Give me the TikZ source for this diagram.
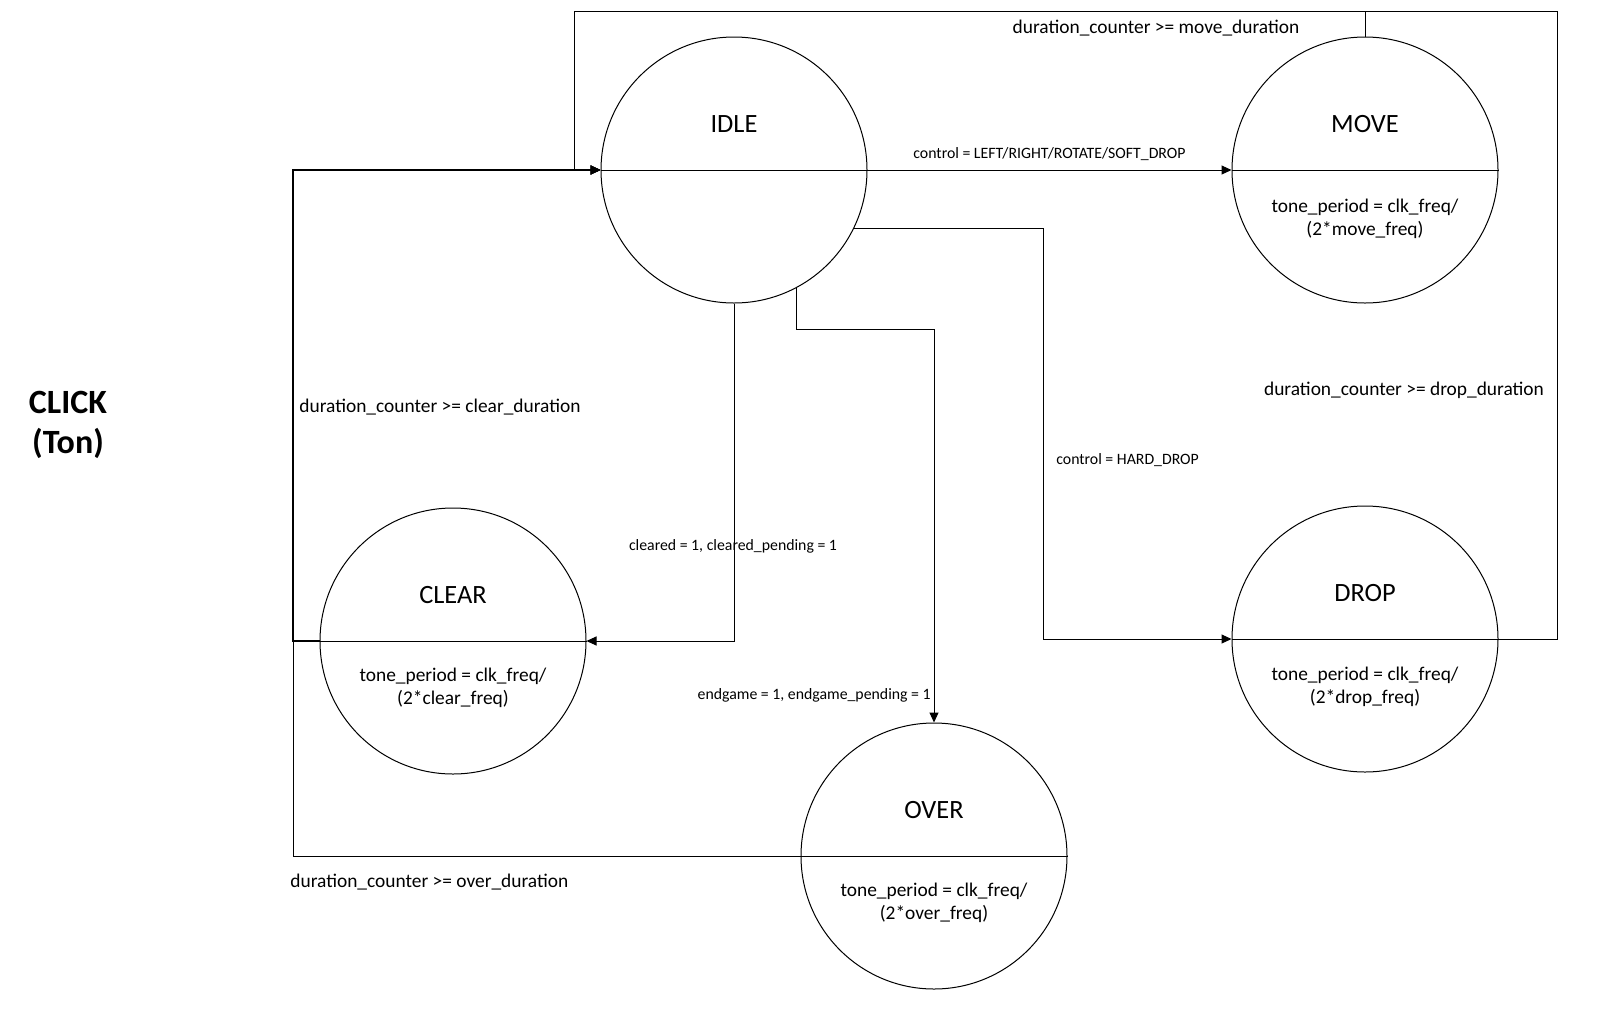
\documentclass[tikz,border=0pt]{standalone}
\usepackage{fontspec}
\setmainfont{Carlito}
\usetikzlibrary{arrows.meta,positioning}

\begin{document}
\begin{tikzpicture}[x=0.5pt,y=-0.5pt,
    state/.style={draw,circle,minimum size=133pt,inner sep=0pt,line width=0.5pt},
    trans/.style={line width=0.5pt,-{Triangle[length=5pt,width=4.5pt]}},
    sname/.style={font=\fontsize{13.2}{15}\selectfont,inner sep=0pt},
    sbody/.style={font=\fontsize{9.7}{11.5}\selectfont,inner sep=0pt,align=center},
    lbl/.style={font=\fontsize{9.7}{11.5}\selectfont,inner sep=0pt},
    cond/.style={font=\fontsize{7.9}{9}\selectfont,inner sep=0pt}]
\useasboundingbox (0,0) rectangle (1613,1029);

% title
\node[font=\fontsize{17}{20}\selectfont\bfseries,align=center] (title) at (68,425) {CLICK\\(Ton)};

% states
\node[state] (idle) at (734,170) {};
\node[state] (move) at (1365,170) {};
\node[state] (clear) at (453,641) {};
\node[state] (drop) at (1365,639) {};
\node[state] (over) at (934,856) {};

\foreach \s in {idle,move,clear,drop,over}
    \draw[line width=0.5pt] (\s.west) -- (\s.east);

\node[sname] (idlename) at ([yshift=22.75pt]idle.center) {IDLE};
\node[sname] (movename) at ([yshift=22.75pt]move.center) {MOVE};
\node[sname] (clearname) at ([yshift=22.75pt]clear.center) {CLEAR};
\node[sname] (dropname) at ([yshift=22.75pt]drop.center) {DROP};
\node[sname] (overname) at ([yshift=22.75pt]over.center) {OVER};

\node[sbody] (movebody) at ([yshift=-24.5pt]move.center) {tone\_period = clk\_freq/\\(2*move\_freq)};
\node[sbody] (clearbody) at ([yshift=-23.5pt]clear.center) {tone\_period = clk\_freq/\\(2*clear\_freq)};
\node[sbody] (dropbody) at ([yshift=-24pt]drop.center) {tone\_period = clk\_freq/\\(2*drop\_freq)};
\node[sbody] (overbody) at ([yshift=-23.5pt]over.center) {tone\_period = clk\_freq/\\(2*over\_freq)};

% bends
\coordinate (topleft) at (574,11);
\coordinate (topright) at (1557,11);
\coordinate (leftbend) at (293,170);
\coordinate (dropbend) at (1043,639);
\coordinate (overbend) at (934,329);

% transitions
\draw[trans] (idle.east) -- (move.west)
    node[cond,midway,above=4.5pt] {control = LEFT/RIGHT/ROTATE/SOFT\_DROP};
\draw[trans] (move.north) |- (topleft) |- (idle.west);
\draw[trans] (drop.east) -| (topright) -| (leftbend -| topleft) -- (idle.west);
\draw[trans] (idle.-26) -| (dropbend) -- (drop.west);
\draw[trans] (idle.south) |- (clear.east);
\draw[trans] (idle.-62.5) |- (overbend) -- (over.north);
\draw[trans] (over.west) -| (leftbend) -- (idle.west);
\draw[trans,line width=1pt] (clear.west) -| (leftbend) -- (idle.west);

% conditions
\node[lbl] (movecond) at (1156,28) {duration\_counter >= move\_duration};
\node[lbl] (dropcond) at (1404,390) {duration\_counter >= drop\_duration};
\node[lbl,anchor=west] (clearcond) at (299,407) {duration\_counter >= clear\_duration};
\node[lbl,anchor=west] (overcond) at (290,882) {duration\_counter >= over\_duration};
\node[cond,anchor=west] (harddrop) at (1056,460) {control = HARD\_DROP};
\node[cond] (cleared) at (733,546) {cleared = 1, cleared\_pending = 1};
\node[cond,anchor=east] (endgame) at (931,695) {endgame = 1, endgame\_pending = 1};
\end{tikzpicture}
\end{document}
